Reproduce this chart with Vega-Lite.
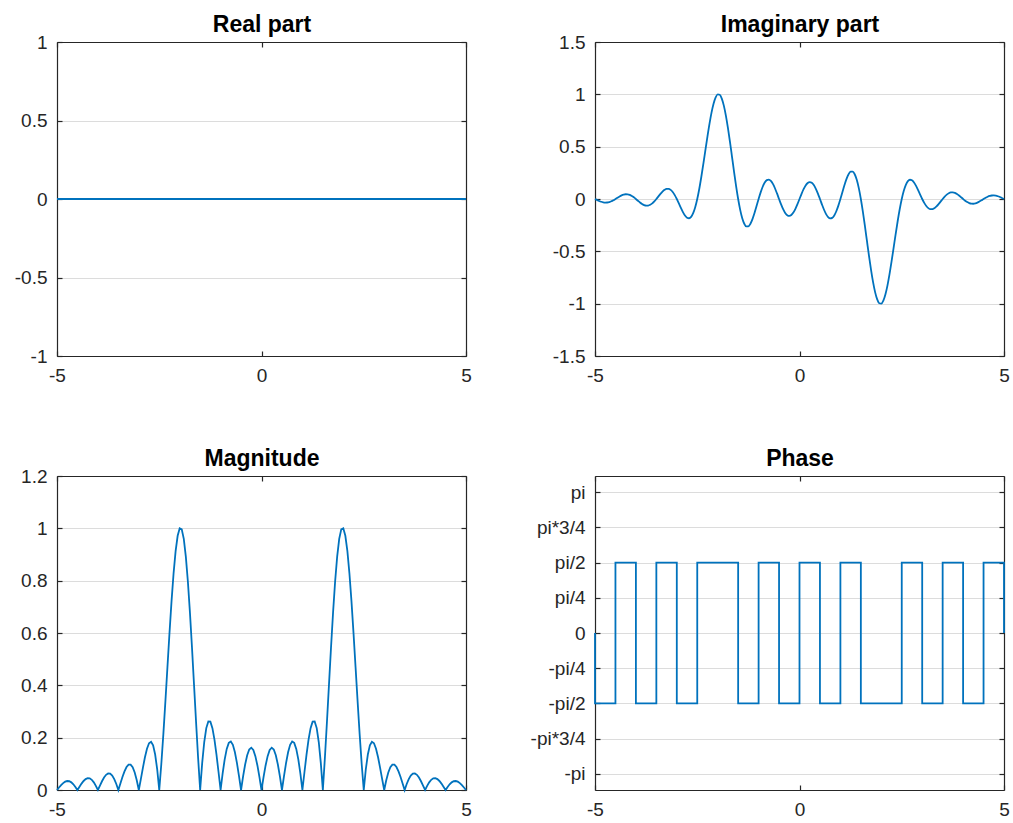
{
  "$schema": "https://vega.github.io/schema/vega-lite/v6.json",
  "background": "white",
  "padding": {"left": 14, "top": 13, "right": 5, "bottom": 5},
  "columns": 2,
  "spacing": {"row": 120, "column": 129},
  "bounds": "flush",
  "config": {
    "font": "Liberation Sans",
    "view": {"stroke": null},
    "axis": {
      "domainColor": "#262626", "domainWidth": 1.2,
      "tickColor": "#262626", "tickWidth": 1.2, "tickSize": -5,
      "labelColor": "#262626", "labelFont": "Liberation Sans", "labelFontSize": 19,
      "labelPadding": 15, "labelFlush": false, "labelOverlap": false,
      "grid": false, "gridColor": "#dcdcdc", "gridWidth": 1,
      "titleFont": "Liberation Sans", "titleFontSize": 23, "titleFontWeight": "bold", "titleColor": "#000000"
    },
    "axisTop": {"titlePadding": 11, "titleBaseline": "alphabetic", "minExtent": 0, "maxExtent": 0, "labels": false}
  },
  "datasets": {
    "s": [
      {"x":-5,"re":0,"im":0,"mag":0},
      {"x":-4.95,"re":0,"im":-0.0096,"mag":0.0096},
      {"x":-4.9,"re":0,"im":-0.0187,"mag":0.0187},
      {"x":-4.85,"re":0,"im":-0.02638,"mag":0.02638},
      {"x":-4.8,"re":0,"im":-0.0318,"mag":0.0318},
      {"x":-4.75,"re":0,"im":-0.0343,"mag":0.0343},
      {"x":-4.7,"re":0,"im":-0.03347,"mag":0.03347},
      {"x":-4.65,"re":0,"im":-0.02923,"mag":0.02923},
      {"x":-4.6,"re":0,"im":-0.02181,"mag":0.02181},
      {"x":-4.55,"re":0,"im":-0.01178,"mag":0.01178},
      {"x":-4.5,"re":0,"im":0,"mag":0},
      {"x":-4.45,"re":0,"im":0.01245,"mag":0.01245},
      {"x":-4.4,"re":0,"im":0.02436,"mag":0.02436},
      {"x":-4.35,"re":0,"im":0.03451,"mag":0.03451},
      {"x":-4.3,"re":0,"im":0.04178,"mag":0.04178},
      {"x":-4.25,"re":0,"im":0.04527,"mag":0.04527},
      {"x":-4.2,"re":0,"im":0.04439,"mag":0.04439},
      {"x":-4.15,"re":0,"im":0.03895,"mag":0.03895},
      {"x":-4.1,"re":0,"im":0.02921,"mag":0.02921},
      {"x":-4.05,"re":0,"im":0.01586,"mag":0.01586},
      {"x":-4,"re":0,"im":0,"mag":0},
      {"x":-3.95,"re":0,"im":-0.01696,"mag":0.01696},
      {"x":-3.9,"re":0,"im":-0.03338,"mag":0.03338},
      {"x":-3.85,"re":0,"im":-0.04759,"mag":0.04759},
      {"x":-3.8,"re":0,"im":-0.05799,"mag":0.05799},
      {"x":-3.75,"re":0,"im":-0.06327,"mag":0.06327},
      {"x":-3.7,"re":0,"im":-0.06248,"mag":0.06248},
      {"x":-3.65,"re":0,"im":-0.05525,"mag":0.05525},
      {"x":-3.6,"re":0,"im":-0.04176,"mag":0.04176},
      {"x":-3.55,"re":0,"im":-0.02287,"mag":0.02287},
      {"x":-3.5,"re":0,"im":0,"mag":0},
      {"x":-3.45,"re":0,"im":0.02489,"mag":0.02489},
      {"x":-3.4,"re":0,"im":0.0495,"mag":0.0495},
      {"x":-3.35,"re":0,"im":0.07131,"mag":0.07131},
      {"x":-3.3,"re":0,"im":0.08788,"mag":0.08788},
      {"x":-3.25,"re":0,"im":0.09701,"mag":0.09701},
      {"x":-3.2,"re":0,"im":0.09703,"mag":0.09703},
      {"x":-3.15,"re":0,"im":0.08696,"mag":0.08696},
      {"x":-3.1,"re":0,"im":0.0667,"mag":0.0667},
      {"x":-3.05,"re":0,"im":0.0371,"mag":0.0371},
      {"x":-3,"re":0,"im":0,"mag":0},
      {"x":-2.95,"re":0,"im":-0.04183,"mag":0.04183},
      {"x":-2.9,"re":0,"im":-0.08485,"mag":0.08485},
      {"x":-2.85,"re":0,"im":-0.12493,"mag":0.12493},
      {"x":-2.8,"re":0,"im":-0.15767,"mag":0.15767},
      {"x":-2.75,"re":0,"im":-0.1787,"mag":0.1787},
      {"x":-2.7,"re":0,"im":-0.18403,"mag":0.18403},
      {"x":-2.65,"re":0,"im":-0.1704,"mag":0.1704},
      {"x":-2.6,"re":0,"im":-0.13558,"mag":0.13558},
      {"x":-2.55,"re":0,"im":-0.07861,"mag":0.07861},
      {"x":-2.5,"re":0,"im":0,"mag":0},
      {"x":-2.45,"re":0,"im":0.09824,"mag":0.09824},
      {"x":-2.4,"re":0,"im":0.21261,"mag":0.21261},
      {"x":-2.35,"re":0,"im":0.33828,"mag":0.33828},
      {"x":-2.3,"re":0,"im":0.46935,"mag":0.46935},
      {"x":-2.25,"re":0,"im":0.59917,"mag":0.59917},
      {"x":-2.2,"re":0,"im":0.72079,"mag":0.72079},
      {"x":-2.15,"re":0,"im":0.82737,"mag":0.82737},
      {"x":-2.1,"re":0,"im":0.91267,"mag":0.91267},
      {"x":-2.05,"re":0,"im":0.97149,"mag":0.97149},
      {"x":-2,"re":0,"im":1,"mag":1},
      {"x":-1.95,"re":0,"im":0.99609,"mag":0.99609},
      {"x":-1.9,"re":0,"im":0.95948,"mag":0.95948},
      {"x":-1.85,"re":0,"im":0.89184,"mag":0.89184},
      {"x":-1.8,"re":0,"im":0.79666,"mag":0.79666},
      {"x":-1.75,"re":0,"im":0.67906,"mag":0.67906},
      {"x":-1.7,"re":0,"im":0.54546,"mag":0.54546},
      {"x":-1.65,"re":0,"im":0.40316,"mag":0.40316},
      {"x":-1.6,"re":0,"im":0.25986,"mag":0.25986},
      {"x":-1.55,"re":0,"im":0.12315,"mag":0.12315},
      {"x":-1.5,"re":0,"im":0,"mag":0},
      {"x":-1.45,"re":0,"im":-0.10368,"mag":0.10368},
      {"x":-1.4,"re":0,"im":-0.18343,"mag":0.18343},
      {"x":-1.35,"re":0,"im":-0.23653,"mag":0.23653},
      {"x":-1.3,"re":0,"im":-0.26211,"mag":0.26211},
      {"x":-1.25,"re":0,"im":-0.26118,"mag":0.26118},
      {"x":-1.2,"re":0,"im":-0.23651,"mag":0.23651},
      {"x":-1.15,"re":0,"im":-0.19236,"mag":0.19236},
      {"x":-1.1,"re":0,"im":-0.13412,"mag":0.13412},
      {"x":-1.05,"re":0,"im":-0.0679,"mag":0.0679},
      {"x":-1,"re":0,"im":0,"mag":0},
      {"x":-0.95,"re":0,"im":0.06351,"mag":0.06351},
      {"x":-0.9,"re":0,"im":0.1173,"mag":0.1173},
      {"x":-0.85,"re":0,"im":0.15714,"mag":0.15714},
      {"x":-0.8,"re":0,"im":0.1802,"mag":0.1802},
      {"x":-0.75,"re":0,"im":0.1852,"mag":0.1852},
      {"x":-0.7,"re":0,"im":0.1725,"mag":0.1725},
      {"x":-0.65,"re":0,"im":0.14397,"mag":0.14397},
      {"x":-0.6,"re":0,"im":0.1028,"mag":0.1028},
      {"x":-0.55,"re":0,"im":0.05321,"mag":0.05321},
      {"x":-0.5,"re":0,"im":0,"mag":0},
      {"x":-0.45,"re":0,"im":-0.0518,"mag":0.0518},
      {"x":-0.4,"re":0,"im":-0.09745,"mag":0.09745},
      {"x":-0.35,"re":0,"im":-0.13283,"mag":0.13283},
      {"x":-0.3,"re":0,"im":-0.15485,"mag":0.15485},
      {"x":-0.25,"re":0,"im":-0.16168,"mag":0.16168},
      {"x":-0.2,"re":0,"im":-0.15289,"mag":0.15289},
      {"x":-0.15,"re":0,"im":-0.12949,"mag":0.12949},
      {"x":-0.1,"re":0,"im":-0.09378,"mag":0.09378},
      {"x":-0.05,"re":0,"im":-0.04921,"mag":0.04921},
      {"x":0,"re":0,"im":0,"mag":0},
      {"x":0.05,"re":0,"im":0.04921,"mag":0.04921},
      {"x":0.1,"re":0,"im":0.09378,"mag":0.09378},
      {"x":0.15,"re":0,"im":0.12949,"mag":0.12949},
      {"x":0.2,"re":0,"im":0.15289,"mag":0.15289},
      {"x":0.25,"re":0,"im":0.16168,"mag":0.16168},
      {"x":0.3,"re":0,"im":0.15485,"mag":0.15485},
      {"x":0.35,"re":0,"im":0.13283,"mag":0.13283},
      {"x":0.4,"re":0,"im":0.09745,"mag":0.09745},
      {"x":0.45,"re":0,"im":0.0518,"mag":0.0518},
      {"x":0.5,"re":0,"im":0,"mag":0},
      {"x":0.55,"re":0,"im":-0.05321,"mag":0.05321},
      {"x":0.6,"re":0,"im":-0.1028,"mag":0.1028},
      {"x":0.65,"re":0,"im":-0.14397,"mag":0.14397},
      {"x":0.7,"re":0,"im":-0.1725,"mag":0.1725},
      {"x":0.75,"re":0,"im":-0.1852,"mag":0.1852},
      {"x":0.8,"re":0,"im":-0.1802,"mag":0.1802},
      {"x":0.85,"re":0,"im":-0.15714,"mag":0.15714},
      {"x":0.9,"re":0,"im":-0.1173,"mag":0.1173},
      {"x":0.95,"re":0,"im":-0.06351,"mag":0.06351},
      {"x":1,"re":0,"im":0,"mag":0},
      {"x":1.05,"re":0,"im":0.0679,"mag":0.0679},
      {"x":1.1,"re":0,"im":0.13412,"mag":0.13412},
      {"x":1.15,"re":0,"im":0.19236,"mag":0.19236},
      {"x":1.2,"re":0,"im":0.23651,"mag":0.23651},
      {"x":1.25,"re":0,"im":0.26118,"mag":0.26118},
      {"x":1.3,"re":0,"im":0.26211,"mag":0.26211},
      {"x":1.35,"re":0,"im":0.23653,"mag":0.23653},
      {"x":1.4,"re":0,"im":0.18343,"mag":0.18343},
      {"x":1.45,"re":0,"im":0.10368,"mag":0.10368},
      {"x":1.5,"re":0,"im":0,"mag":0},
      {"x":1.55,"re":0,"im":-0.12315,"mag":0.12315},
      {"x":1.6,"re":0,"im":-0.25986,"mag":0.25986},
      {"x":1.65,"re":0,"im":-0.40316,"mag":0.40316},
      {"x":1.7,"re":0,"im":-0.54546,"mag":0.54546},
      {"x":1.75,"re":0,"im":-0.67906,"mag":0.67906},
      {"x":1.8,"re":0,"im":-0.79666,"mag":0.79666},
      {"x":1.85,"re":0,"im":-0.89184,"mag":0.89184},
      {"x":1.9,"re":0,"im":-0.95948,"mag":0.95948},
      {"x":1.95,"re":0,"im":-0.99609,"mag":0.99609},
      {"x":2,"re":0,"im":-1,"mag":1},
      {"x":2.05,"re":0,"im":-0.97149,"mag":0.97149},
      {"x":2.1,"re":0,"im":-0.91267,"mag":0.91267},
      {"x":2.15,"re":0,"im":-0.82737,"mag":0.82737},
      {"x":2.2,"re":0,"im":-0.72079,"mag":0.72079},
      {"x":2.25,"re":0,"im":-0.59917,"mag":0.59917},
      {"x":2.3,"re":0,"im":-0.46935,"mag":0.46935},
      {"x":2.35,"re":0,"im":-0.33828,"mag":0.33828},
      {"x":2.4,"re":0,"im":-0.21261,"mag":0.21261},
      {"x":2.45,"re":0,"im":-0.09824,"mag":0.09824},
      {"x":2.5,"re":0,"im":0,"mag":0},
      {"x":2.55,"re":0,"im":0.07861,"mag":0.07861},
      {"x":2.6,"re":0,"im":0.13558,"mag":0.13558},
      {"x":2.65,"re":0,"im":0.1704,"mag":0.1704},
      {"x":2.7,"re":0,"im":0.18403,"mag":0.18403},
      {"x":2.75,"re":0,"im":0.1787,"mag":0.1787},
      {"x":2.8,"re":0,"im":0.15767,"mag":0.15767},
      {"x":2.85,"re":0,"im":0.12493,"mag":0.12493},
      {"x":2.9,"re":0,"im":0.08485,"mag":0.08485},
      {"x":2.95,"re":0,"im":0.04183,"mag":0.04183},
      {"x":3,"re":0,"im":0,"mag":0},
      {"x":3.05,"re":0,"im":-0.0371,"mag":0.0371},
      {"x":3.1,"re":0,"im":-0.0667,"mag":0.0667},
      {"x":3.15,"re":0,"im":-0.08696,"mag":0.08696},
      {"x":3.2,"re":0,"im":-0.09703,"mag":0.09703},
      {"x":3.25,"re":0,"im":-0.09701,"mag":0.09701},
      {"x":3.3,"re":0,"im":-0.08788,"mag":0.08788},
      {"x":3.35,"re":0,"im":-0.07131,"mag":0.07131},
      {"x":3.4,"re":0,"im":-0.0495,"mag":0.0495},
      {"x":3.45,"re":0,"im":-0.02489,"mag":0.02489},
      {"x":3.5,"re":0,"im":0,"mag":0},
      {"x":3.55,"re":0,"im":0.02287,"mag":0.02287},
      {"x":3.6,"re":0,"im":0.04176,"mag":0.04176},
      {"x":3.65,"re":0,"im":0.05525,"mag":0.05525},
      {"x":3.7,"re":0,"im":0.06248,"mag":0.06248},
      {"x":3.75,"re":0,"im":0.06327,"mag":0.06327},
      {"x":3.8,"re":0,"im":0.05799,"mag":0.05799},
      {"x":3.85,"re":0,"im":0.04759,"mag":0.04759},
      {"x":3.9,"re":0,"im":0.03338,"mag":0.03338},
      {"x":3.95,"re":0,"im":0.01696,"mag":0.01696},
      {"x":4,"re":0,"im":0,"mag":0},
      {"x":4.05,"re":0,"im":-0.01586,"mag":0.01586},
      {"x":4.1,"re":0,"im":-0.02921,"mag":0.02921},
      {"x":4.15,"re":0,"im":-0.03895,"mag":0.03895},
      {"x":4.2,"re":0,"im":-0.04439,"mag":0.04439},
      {"x":4.25,"re":0,"im":-0.04527,"mag":0.04527},
      {"x":4.3,"re":0,"im":-0.04178,"mag":0.04178},
      {"x":4.35,"re":0,"im":-0.03451,"mag":0.03451},
      {"x":4.4,"re":0,"im":-0.02436,"mag":0.02436},
      {"x":4.45,"re":0,"im":-0.01245,"mag":0.01245},
      {"x":4.5,"re":0,"im":0,"mag":0},
      {"x":4.55,"re":0,"im":0.01178,"mag":0.01178},
      {"x":4.6,"re":0,"im":0.02181,"mag":0.02181},
      {"x":4.65,"re":0,"im":0.02923,"mag":0.02923},
      {"x":4.7,"re":0,"im":0.03347,"mag":0.03347},
      {"x":4.75,"re":0,"im":0.0343,"mag":0.0343},
      {"x":4.8,"re":0,"im":0.0318,"mag":0.0318},
      {"x":4.85,"re":0,"im":0.02638,"mag":0.02638},
      {"x":4.9,"re":0,"im":0.0187,"mag":0.0187},
      {"x":4.95,"re":0,"im":0.0096,"mag":0.0096},
      {"x":5,"re":0,"im":0,"mag":0}
    ],
    "ph": [
      {"i":0,"x":-5,"p":0},
      {"i":1,"x":-5,"p":-1.5708},
      {"i":2,"x":-4.5,"p":-1.5708},
      {"i":3,"x":-4.5,"p":1.5708},
      {"i":4,"x":-4,"p":1.5708},
      {"i":5,"x":-4,"p":-1.5708},
      {"i":6,"x":-3.5,"p":-1.5708},
      {"i":7,"x":-3.5,"p":1.5708},
      {"i":8,"x":-3,"p":1.5708},
      {"i":9,"x":-3,"p":-1.5708},
      {"i":10,"x":-2.5,"p":-1.5708},
      {"i":11,"x":-2.5,"p":1.5708},
      {"i":12,"x":-1.5,"p":1.5708},
      {"i":13,"x":-1.5,"p":-1.5708},
      {"i":14,"x":-1,"p":-1.5708},
      {"i":15,"x":-1,"p":1.5708},
      {"i":16,"x":-0.5,"p":1.5708},
      {"i":17,"x":-0.5,"p":-1.5708},
      {"i":18,"x":0,"p":-1.5708},
      {"i":19,"x":0,"p":1.5708},
      {"i":20,"x":0.5,"p":1.5708},
      {"i":21,"x":0.5,"p":-1.5708},
      {"i":22,"x":1,"p":-1.5708},
      {"i":23,"x":1,"p":1.5708},
      {"i":24,"x":1.5,"p":1.5708},
      {"i":25,"x":1.5,"p":-1.5708},
      {"i":26,"x":2.5,"p":-1.5708},
      {"i":27,"x":2.5,"p":1.5708},
      {"i":28,"x":3,"p":1.5708},
      {"i":29,"x":3,"p":-1.5708},
      {"i":30,"x":3.5,"p":-1.5708},
      {"i":31,"x":3.5,"p":1.5708},
      {"i":32,"x":4,"p":1.5708},
      {"i":33,"x":4,"p":-1.5708},
      {"i":34,"x":4.5,"p":-1.5708},
      {"i":35,"x":4.5,"p":1.5708},
      {"i":36,"x":5,"p":1.5708},
      {"i":37,"x":5,"p":0}
    ]
  },
  "concat": [
    {
      "width": 409, "height": 314,
      "data": {"name": "s"},
      "layer": [
        {
          "mark": {"type": "line", "color": "#0072BD", "strokeWidth": 1.8},
          "encoding": {
            "x": {"field": "x", "type": "quantitative", "title": null, "scale": {"domain": [-5, 5], "nice": false, "zero": false},
                  "axis": {"orient": "bottom", "values": [-5, 0, 5], "labelExpr": "replace(format(datum.value, '~g'), '\u2212', '-')"}},
            "y": {"field": "re", "type": "quantitative", "title": null, "scale": {"domain": [-1, 1], "nice": false, "zero": false},
                  "axis": {"orient": "left", "grid": true, "values": [-1, -0.5, 0, 0.5, 1], "labelExpr": "replace(format(datum.value, '~g'), '\u2212', '-')"}}
          }
        },
        {
          "mark": {"type": "line", "opacity": 0},
          "encoding": {
            "x": {"field": "x", "type": "quantitative", "title": "Real part", "axis": {"orient": "top", "values": [-5, 0, 5]}},
            "y": {"field": "re", "type": "quantitative", "title": null, "axis": {"orient": "right", "labels": false, "values": [-1, -0.5, 0, 0.5, 1]}}
          }
        }
      ],
      "resolve": {"axis": {"x": "independent", "y": "independent"}}
    },
    {
      "width": 409, "height": 314,
      "data": {"name": "s"},
      "layer": [
        {
          "mark": {"type": "line", "color": "#0072BD", "strokeWidth": 1.8, "interpolate": "monotone"},
          "encoding": {
            "x": {"field": "x", "type": "quantitative", "title": null, "scale": {"domain": [-5, 5], "nice": false, "zero": false},
                  "axis": {"orient": "bottom", "values": [-5, 0, 5], "labelExpr": "replace(format(datum.value, '~g'), '\u2212', '-')"}},
            "y": {"field": "im", "type": "quantitative", "title": null, "scale": {"domain": [-1.5, 1.5], "nice": false, "zero": false},
                  "axis": {"orient": "left", "grid": true, "values": [-1.5, -1, -0.5, 0, 0.5, 1, 1.5], "labelExpr": "replace(format(datum.value, '~g'), '\u2212', '-')"}}
          }
        },
        {
          "mark": {"type": "line", "opacity": 0},
          "encoding": {
            "x": {"field": "x", "type": "quantitative", "title": "Imaginary part", "axis": {"orient": "top", "values": [-5, 0, 5]}},
            "y": {"field": "im", "type": "quantitative", "title": null, "axis": {"orient": "right", "labels": false, "values": [-1.5, -1, -0.5, 0, 0.5, 1, 1.5]}}
          }
        }
      ],
      "resolve": {"axis": {"x": "independent", "y": "independent"}}
    },
    {
      "width": 409, "height": 314,
      "data": {"name": "s"},
      "layer": [
        {
          "mark": {"type": "line", "color": "#0072BD", "strokeWidth": 1.8},
          "encoding": {
            "x": {"field": "x", "type": "quantitative", "title": null, "scale": {"domain": [-5, 5], "nice": false, "zero": false},
                  "axis": {"orient": "bottom", "values": [-5, 0, 5], "labelExpr": "replace(format(datum.value, '~g'), '\u2212', '-')"}},
            "y": {"field": "mag", "type": "quantitative", "title": null, "scale": {"domain": [0, 1.2], "nice": false, "zero": false},
                  "axis": {"orient": "left", "grid": true, "values": [0, 0.2, 0.4, 0.6, 0.8, 1, 1.2], "labelExpr": "replace(format(datum.value, '~g'), '\u2212', '-')"}}
          }
        },
        {
          "mark": {"type": "line", "opacity": 0},
          "encoding": {
            "x": {"field": "x", "type": "quantitative", "title": "Magnitude", "axis": {"orient": "top", "values": [-5, 0, 5]}},
            "y": {"field": "mag", "type": "quantitative", "title": null, "axis": {"orient": "right", "labels": false, "values": [0, 0.2, 0.4, 0.6, 0.8, 1, 1.2]}}
          }
        }
      ],
      "resolve": {"axis": {"x": "independent", "y": "independent"}}
    },
    {
      "width": 409, "height": 314,
      "data": {"name": "ph"},
      "layer": [
        {
          "mark": {"type": "line", "color": "#0072BD", "strokeWidth": 1.8},
          "encoding": {
            "x": {"field": "x", "type": "quantitative", "title": null, "scale": {"domain": [-5, 5], "nice": false, "zero": false},
                  "axis": {"orient": "bottom", "values": [-5, 0, 5], "labelExpr": "replace(format(datum.value, '~g'), '\u2212', '-')"}},
            "y": {"field": "p", "type": "quantitative", "title": null, "scale": {"domain": [-3.5, 3.5], "nice": false, "zero": false},
                  "axis": {"orient": "left", "grid": true, "values": [-3.141593, -2.356194, -1.570796, -0.785398, 0, 0.785398, 1.570796, 2.356194, 3.141593],
                           "labelExpr": "datum.value > 3 ? 'pi' : datum.value > 2 ? 'pi*3/4' : datum.value > 1 ? 'pi/2' : datum.value > 0.5 ? 'pi/4' : datum.value > -0.5 ? '0' : datum.value > -1 ? '-pi/4' : datum.value > -2 ? '-pi/2' : datum.value > -3 ? '-pi*3/4' : '-pi'"}},
            "order": {"field": "i", "type": "quantitative"}
          }
        },
        {
          "mark": {"type": "line", "opacity": 0},
          "encoding": {
            "x": {"field": "x", "type": "quantitative", "title": "Phase", "axis": {"orient": "top", "values": [-5, 0, 5]}},
            "y": {"field": "p", "type": "quantitative", "title": null, "axis": {"orient": "right", "labels": false, "values": [-3.141593, -2.356194, -1.570796, -0.785398, 0, 0.785398, 1.570796, 2.356194, 3.141593]}},
            "order": {"field": "i", "type": "quantitative"}
          }
        }
      ],
      "resolve": {"axis": {"x": "independent", "y": "independent"}}
    }
  ]
}
